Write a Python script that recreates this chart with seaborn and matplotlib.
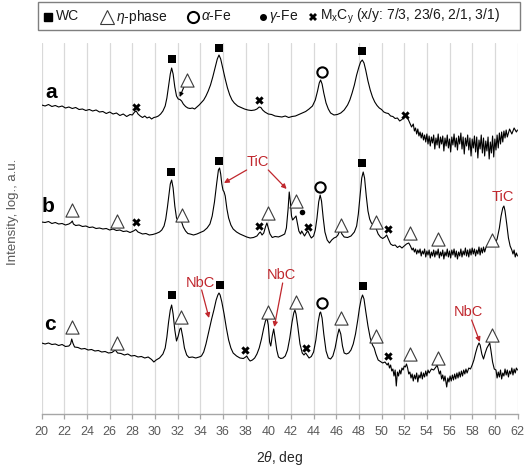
import matplotlib
matplotlib.use("Agg")
import matplotlib.pyplot as plt
from matplotlib.patches import Rectangle
from matplotlib.lines import Line2D
import pandas as pd
import seaborn as sns

# ---- XRD patterns: (2theta in deg, log intensity in a.u. incl. stacking offset) ----
trace_a = [
    (20.0, 309), (20.3, 308), (20.6, 309.5), (20.9, 307.5), (21.2, 308.5), (21.5, 307),
    (21.8, 308), (22.1, 306), (22.4, 307), (22.7, 305.5), (23.0, 306.5), (23.3, 304.5),
    (23.6, 305), (23.9, 303.5), (24.2, 304.5), (24.5, 303), (24.8, 304), (25.1, 302),
    (25.4, 302.5), (25.7, 300.5), (26.0, 302), (26.3, 300), (26.6, 301), (26.9, 298.5),
    (27.2, 300), (27.5, 297.5), (27.8, 299.5), (28.0, 299), (28.2, 302), (28.35, 303),
    (28.5, 300), (28.7, 298), (28.9, 296.5), (29.1, 298), (29.3, 296), (29.5, 297),
    (29.7, 295), (29.9, 296.5), (30.1, 297), (30.3, 298), (30.5, 300), (30.7, 303),
    (30.9, 308), (31.05, 316), (31.2, 328), (31.35, 340), (31.47, 346), (31.6, 340),
    (31.75, 327), (31.9, 318), (32.05, 315), (32.2, 314.5), (32.35, 313), (32.5, 310),
    (32.7, 307.5), (32.9, 306), (33.1, 305.5), (33.3, 306), (33.5, 305), (33.7, 307),
    (33.9, 309), (34.1, 311.5), (34.3, 314), (34.5, 318), (34.7, 323), (34.9, 329),
    (35.1, 337), (35.3, 346), (35.5, 355), (35.65, 359), (35.8, 355), (36.0, 345),
    (36.2, 335), (36.4, 326), (36.6, 319), (36.8, 314), (37.0, 311), (37.3, 308),
    (37.6, 306.5), (37.9, 305), (38.2, 304), (38.5, 303.5), (38.8, 304), (39.0, 305),
    (39.2, 307), (39.35, 306.5), (39.5, 304), (39.7, 302), (40.0, 300), (40.3, 299.5),
    (40.6, 298), (40.9, 297.5), (41.2, 297), (41.5, 298), (41.8, 296.5), (42.1, 297.5),
    (42.4, 298), (42.7, 299.5), (43.0, 301), (43.3, 302.5), (43.6, 305), (43.9, 308),
    (44.15, 314), (44.35, 323), (44.5, 331), (44.62, 334), (44.75, 330), (44.9, 321),
    (45.1, 311), (45.3, 305), (45.5, 301), (45.8, 299), (46.1, 299.5), (46.4, 301),
    (46.7, 304), (47.0, 309), (47.2, 314), (47.4, 321), (47.6, 329), (47.8, 339),
    (48.0, 347), (48.15, 352), (48.3, 354), (48.45, 351), (48.6, 344), (48.8, 333),
    (49.0, 324), (49.2, 317), (49.4, 312), (49.6, 308.5), (49.8, 306), (50.0, 304.5),
    (50.2, 302), (50.4, 301), (50.6, 300.5), (50.8, 298), (51.0, 297.5), (51.2, 295.5),
    (51.4, 296), (51.6, 293), (51.8, 294.5), (52.0, 297), (52.15, 299), (52.3, 296),
    (52.5, 291), (52.65, 287), (52.8, 290), (52.9, 283), (53.0, 286), (53.1, 280),
    (53.2, 285), (53.3, 278), (53.4, 282), (53.5, 276), (53.6, 281), (53.7, 274),
    (53.8, 279), (53.9, 272), (54.0, 280), (54.1, 270), (54.2, 278), (54.3, 268),
    (54.4, 277), (54.5, 271), (54.6, 279), (54.7, 265), (54.8, 276), (54.9, 269),
    (55.0, 280), (55.1, 266), (55.2, 277), (55.3, 270), (55.4, 278), (55.5, 263),
    (55.6, 276), (55.7, 268), (55.8, 279), (55.9, 266), (56.0, 275), (56.1, 262),
    (56.2, 277), (56.3, 269), (56.4, 280), (56.5, 267), (56.6, 276), (56.7, 264),
    (56.8, 278), (56.9, 270), (57.0, 281), (57.1, 265), (57.2, 277), (57.3, 260),
    (57.4, 276), (57.5, 268), (57.6, 279), (57.7, 264), (57.8, 276), (57.9, 258),
    (58.0, 275), (58.1, 266), (58.2, 278), (58.3, 262), (58.4, 277), (58.5, 256),
    (58.6, 274), (58.7, 265), (58.8, 279), (58.9, 261), (59.0, 276), (59.1, 258),
    (59.2, 273), (59.3, 263), (59.4, 277), (59.5, 255), (59.6, 272), (59.7, 261),
    (59.8, 278), (59.9, 257), (60.0, 275), (60.1, 264), (60.2, 279), (60.3, 266),
    (60.4, 281), (60.5, 270), (60.6, 282), (60.7, 272), (60.8, 283), (60.9, 276),
    (61.0, 284), (61.1, 277), (61.3, 285), (61.5, 280), (61.7, 286), (61.9, 282),
    (62.0, 284),
]

trace_b = [
    (20.0, 192), (20.3, 191.5), (20.6, 192.5), (20.9, 190.5), (21.2, 191.5), (21.5, 190),
    (21.8, 190.5), (22.1, 189), (22.4, 190), (22.6, 191.5), (22.7, 193), (22.8, 190),
    (23.0, 188.5), (23.3, 189), (23.6, 187.5), (23.9, 188), (24.2, 186.5), (24.5, 187),
    (24.8, 185.5), (25.1, 186), (25.4, 185), (25.7, 185.5), (26.0, 184), (26.3, 185),
    (26.6, 183.5), (26.9, 184), (27.2, 182.5), (27.5, 183), (27.8, 181.5), (28.1, 183),
    (28.3, 184.5), (28.5, 182), (28.7, 181), (28.9, 180), (29.2, 180.5), (29.5, 179),
    (29.8, 179.5), (30.1, 180.5), (30.4, 182), (30.6, 184), (30.8, 188), (30.95, 195),
    (31.1, 207), (31.25, 221), (31.35, 230), (31.47, 234), (31.6, 226), (31.75, 208),
    (31.9, 196), (32.05, 193), (32.15, 194), (32.25, 195), (32.35, 192), (32.5, 187),
    (32.7, 183), (32.9, 180.5), (33.1, 180), (33.4, 179), (33.7, 180), (34.0, 181.5),
    (34.3, 183), (34.6, 186), (34.85, 190), (35.05, 198), (35.25, 212), (35.45, 231),
    (35.6, 244), (35.7, 246), (35.8, 240), (35.9, 230), (36.0, 224), (36.1, 222),
    (36.2, 218), (36.35, 205), (36.5, 196), (36.7, 189), (36.9, 185), (37.2, 182),
    (37.5, 180), (37.8, 178.5), (38.1, 177), (38.4, 176), (38.7, 176.5), (39.0, 178),
    (39.2, 181), (39.3, 182), (39.45, 179), (39.6, 181), (39.75, 187), (39.88, 191),
    (40.0, 186), (40.15, 180), (40.35, 176.5), (40.6, 177.5), (40.9, 177), (41.2, 178.5),
    (41.45, 180), (41.6, 186), (41.75, 205), (41.85, 222), (41.95, 212), (42.05, 198),
    (42.15, 194), (42.3, 196), (42.45, 198), (42.55, 192), (42.7, 183), (42.85, 180),
    (42.95, 183), (43.05, 181), (43.2, 178), (43.35, 181), (43.5, 183), (43.65, 179),
    (43.8, 176), (44.0, 178), (44.15, 184), (44.3, 196), (44.45, 212), (44.58, 219),
    (44.7, 213), (44.85, 196), (45.0, 182), (45.2, 174), (45.4, 171), (45.6, 174),
    (45.8, 176), (46.0, 177), (46.15, 179), (46.3, 183), (46.4, 183), (46.5, 180),
    (46.7, 177), (47.0, 176.5), (47.3, 178), (47.6, 182), (47.8, 188), (47.95, 200),
    (48.1, 218), (48.25, 236), (48.38, 242), (48.5, 236), (48.65, 218), (48.8, 203),
    (48.95, 195), (49.1, 191), (49.3, 189), (49.5, 186), (49.7, 180), (49.9, 177),
    (50.1, 175.5), (50.3, 177), (50.45, 179), (50.6, 175), (50.8, 170), (51.0, 168.5),
    (51.2, 169), (51.4, 166.5), (51.6, 168), (51.8, 166), (52.0, 168), (52.2, 170),
    (52.4, 171), (52.55, 168), (52.7, 164), (52.8, 166), (52.9, 162), (53.0, 165),
    (53.1, 160), (53.2, 164), (53.3, 161), (53.4, 165), (53.5, 158), (53.6, 163),
    (53.7, 160), (53.8, 165), (53.9, 157), (54.0, 163), (54.1, 159), (54.2, 164),
    (54.3, 156), (54.4, 162), (54.5, 158), (54.6, 164), (54.7, 157), (54.8, 163),
    (54.9, 159), (55.0, 165), (55.1, 156), (55.2, 162), (55.3, 158), (55.4, 164),
    (55.5, 155), (55.6, 162), (55.7, 158), (55.8, 165), (55.9, 157), (56.0, 163),
    (56.1, 156), (56.2, 164), (56.3, 159), (56.4, 165), (56.5, 157), (56.6, 163),
    (56.7, 155), (56.8, 162), (56.9, 158), (57.0, 165), (57.1, 157), (57.2, 163),
    (57.3, 159), (57.4, 166), (57.5, 158), (57.6, 164), (57.7, 157), (57.8, 165),
    (57.9, 159), (58.0, 166), (58.1, 160), (58.2, 165), (58.3, 158), (58.4, 164),
    (58.5, 160), (58.6, 167), (58.7, 159), (58.8, 166), (58.9, 161), (59.0, 167),
    (59.1, 162), (59.2, 166), (59.35, 169), (59.5, 170), (59.7, 172), (59.85, 168),
    (60.0, 170), (60.2, 175), (60.4, 186), (60.55, 198), (60.7, 206), (60.8, 208),
    (60.9, 203), (61.05, 190), (61.2, 176), (61.35, 168), (61.5, 164), (61.6, 160),
    (61.7, 164), (61.8, 157), (61.9, 161), (62.0, 158),
]

trace_c = [
    (20.0, 71), (20.3, 70), (20.6, 71), (20.9, 69.5), (21.2, 70), (21.5, 68.5),
    (21.8, 69.5), (22.1, 67.5), (22.4, 68), (22.55, 70), (22.65, 75), (22.75, 71),
    (22.9, 67), (23.2, 66.5), (23.5, 65), (23.8, 65.5), (24.1, 64), (24.4, 64.5),
    (24.7, 63), (25.0, 63.5), (25.3, 62), (25.6, 62.5), (25.9, 61), (26.2, 61.5),
    (26.5, 64), (26.7, 61), (27.0, 60.5), (27.3, 59), (27.6, 60), (27.9, 58),
    (28.2, 58.5), (28.5, 57), (28.8, 57.5), (29.1, 56), (29.4, 57), (29.7, 54.5),
    (29.9, 52), (30.1, 54), (30.4, 56), (30.7, 60), (30.9, 66), (31.05, 77),
    (31.2, 92), (31.35, 104), (31.47, 109), (31.6, 100), (31.75, 84), (31.9, 73),
    (32.05, 78), (32.2, 85), (32.3, 86), (32.45, 77), (32.6, 66), (32.8, 59),
    (33.0, 56.5), (33.3, 57), (33.6, 56), (33.9, 57), (34.1, 58), (34.3, 62),
    (34.5, 70), (34.7, 80), (34.85, 88), (35.0, 95), (35.2, 104), (35.4, 114),
    (35.55, 119), (35.65, 121), (35.75, 119), (35.9, 112), (36.1, 100), (36.3, 86),
    (36.5, 74), (36.7, 66), (36.9, 61), (37.2, 58), (37.5, 56), (37.8, 55.5),
    (38.0, 57), (38.1, 58), (38.25, 55), (38.4, 53), (38.6, 54), (38.8, 56),
    (39.0, 60), (39.2, 66), (39.4, 75), (39.6, 86), (39.75, 93), (39.88, 96),
    (40.0, 89), (40.12, 72), (40.22, 68), (40.35, 78), (40.48, 85), (40.6, 76),
    (40.75, 64), (40.9, 57), (41.1, 55.5), (41.3, 56), (41.5, 58), (41.7, 64),
    (41.9, 76), (42.1, 92), (42.25, 101), (42.35, 104), (42.45, 100), (42.6, 88),
    (42.8, 70), (43.0, 61), (43.15, 59), (43.3, 61), (43.45, 58.5), (43.6, 56),
    (43.8, 57.5), (44.0, 62), (44.2, 74), (44.4, 92), (44.55, 101), (44.62, 102),
    (44.75, 96), (44.9, 80), (45.1, 63), (45.3, 56), (45.5, 55), (45.7, 58),
    (45.9, 66), (46.1, 78), (46.25, 85), (46.4, 80), (46.55, 68), (46.7, 61),
    (46.9, 60), (47.1, 61), (47.3, 64), (47.5, 70), (47.7, 80), (47.9, 94),
    (48.05, 106), (48.2, 115), (48.32, 119), (48.45, 115), (48.6, 103), (48.8, 88),
    (49.0, 76), (49.2, 69), (49.35, 66), (49.5, 60), (49.7, 54), (49.9, 52.5),
    (50.1, 51), (50.3, 52), (50.5, 49), (50.6, 51), (50.7, 46), (50.8, 49),
    (50.9, 43), (51.0, 45), (51.1, 38), (51.2, 44), (51.3, 28), (51.4, 42),
    (51.5, 38), (51.6, 44), (51.7, 40), (51.8, 46), (51.9, 44), (52.0, 48),
    (52.1, 47), (52.2, 50), (52.3, 46), (52.4, 40), (52.5, 42), (52.6, 36),
    (52.7, 40), (52.8, 33), (52.9, 39), (53.0, 35), (53.1, 41), (53.2, 32),
    (53.3, 39), (53.4, 36), (53.5, 42), (53.6, 35), (53.7, 41), (53.8, 37),
    (53.9, 43), (54.0, 38), (54.1, 44), (54.2, 41), (54.4, 45), (54.6, 44),
    (54.8, 47), (54.9, 49), (55.0, 45), (55.1, 40), (55.2, 43), (55.3, 35),
    (55.4, 39), (55.5, 33), (55.6, 38), (55.75, 27), (55.85, 36), (55.95, 32),
    (56.05, 38), (56.15, 33), (56.25, 39), (56.35, 34), (56.45, 40), (56.55, 35),
    (56.65, 41), (56.75, 36), (56.85, 42), (56.95, 37), (57.05, 43), (57.15, 38),
    (57.25, 44), (57.35, 40), (57.45, 45), (57.55, 41), (57.7, 46), (57.85, 45),
    (58.0, 49), (58.15, 54), (58.3, 61), (58.45, 67), (58.6, 71), (58.7, 69),
    (58.85, 60), (59.0, 55), (59.15, 61), (59.3, 66), (59.45, 69), (59.55, 71),
    (59.65, 64), (59.8, 52), (59.95, 45), (60.1, 44), (60.2, 36), (60.3, 42),
    (60.4, 37), (60.5, 44), (60.6, 35), (60.7, 41), (60.8, 38), (60.9, 45),
    (61.0, 39), (61.1, 44), (61.2, 37), (61.3, 43), (61.4, 40), (61.5, 46),
    (61.6, 39), (61.7, 45), (61.8, 41), (61.9, 46), (62.0, 44),
]

# ---- phase identification markers (2theta, height) ----
wc_peaks = [(31.47, 355), (35.65, 366), (48.3, 363),
            (31.39, 242), (35.65, 253), (48.3, 251),
            (31.47, 119), (35.7, 129), (48.33, 128)]
eta_peaks = [(32.8, 334),
             (22.65, 204), (26.62, 193), (32.36, 199), (40.0, 201), (42.45, 213),
             (46.42, 189), (49.48, 192), (52.5, 181), (54.95, 175), (59.77, 174),
             (22.65, 87), (26.62, 71), (32.3, 97), (39.95, 102), (42.45, 112),
             (46.42, 96), (49.48, 78), (52.5, 60), (55.0, 56), (59.77, 79)]
alpha_fe_peaks = [(44.71, 342), (44.56, 227), (44.71, 111)]
gamma_fe_peaks = [(42.95, 202)]
mxcy_peaks = [(28.3, 307), (39.2, 314), (52.09, 299),
              (28.35, 192), (39.2, 188), (43.53, 187), (50.59, 185),
              (37.94, 64), (43.33, 66), (50.59, 58)]

# ---- carbide call-outs: label, text position, arrows (from -> to) ----
tic_notes = [("TiC", (39.12, 252), [((38.09, 244), (36.09, 231)), ((40.0, 244), (41.62, 225))]),
             ("TiC", (60.74, 217), [])]
nbc_notes = [("NbC", (33.97, 131), [((34.12, 124), (34.77, 96))]),
             ("NbC", (41.18, 139), [((41.27, 131), (40.53, 87))]),
             ("NbC", (57.65, 102), [((57.95, 94), (58.68, 72))])]

pattern_names = ["a", "b", "c"]
x_ticks = list(range(20, 63, 2))
legend_labels = ["WC", r"$\eta$-phase", r"$\alpha$-Fe", r"$\gamma$-Fe",
                 r"M$_\mathregular{x}$C$_\mathregular{y}$ (x/y: 7/3, 23/6, 2/1, 3/1)"]

sns.set_theme(style="white")
plt.rcParams["font.family"] = ["Liberation Sans", "DejaVu Sans"]
plt.rcParams["mathtext.fontset"] = "custom"
plt.rcParams["mathtext.rm"] = "Liberation Sans"
plt.rcParams["mathtext.it"] = "Liberation Sans:italic"
plt.rcParams["mathtext.bf"] = "Liberation Sans:bold"

frames = []
for name, trace in zip(pattern_names, [trace_a, trace_b, trace_c]):
    df = pd.DataFrame(trace, columns=["two_theta", "intensity"])
    df["pattern"] = name
    frames.append(df)
patterns = pd.concat(frames, ignore_index=True)

W, H = 525, 470
fig = plt.figure(figsize=(W / 100, H / 100), dpi=100)
ax = fig.add_axes([41.7 / W, 56 / H, 475.8 / W, 371 / H])

ax.set_xlim(20, 62)
ax.set_ylim(0, 371)
ax.set_xticks(x_ticks)
ax.set_yticks([])
ax.grid(axis="x", color="#d9d9d9", linewidth=0.9)
ax.set_axisbelow(True)
for side in ["left", "top", "right"]:
    ax.spines[side].set_visible(False)
ax.spines["bottom"].set_color("#a6a6a6")
ax.spines["bottom"].set_linewidth(1.0)
ax.tick_params(axis="x", bottom=True, direction="out", length=3.5, width=0.9,
               color="#a6a6a6", labelcolor="#595959", labelsize=9, pad=5)

sns.lineplot(data=patterns, x="two_theta", y="intensity", units="pattern",
             estimator=None, sort=False, color="black", linewidth=0.8, ax=ax)


def xy(points):
    return [p[0] for p in points], [p[1] for p in points]


mx, my = xy(wc_peaks)
sns.scatterplot(x=mx, y=my, marker="s", s=34, color="black", edgecolor="black",
                linewidth=0, ax=ax, zorder=5)
mx, my = xy(eta_peaks)
ax.scatter(mx, my, marker="^", s=90, facecolors="white", edgecolors="#3a3a3a",
           linewidths=0.8, zorder=5)
mx, my = xy(alpha_fe_peaks)
ax.scatter(mx, my, marker="o", s=55, facecolors="white", edgecolors="black",
           linewidths=1.5, zorder=5)
mx, my = xy(gamma_fe_peaks)
sns.scatterplot(x=mx, y=my, marker="o", s=16, color="black", linewidth=0, ax=ax, zorder=5)
mx, my = xy(mxcy_peaks)
sns.scatterplot(x=mx, y=my, marker="X", s=36, color="black", linewidth=0, ax=ax, zorder=5)

# arrow from the eta-phase marker to the shoulder of pattern a
ax.annotate("", xy=(32.18, 317), xytext=(32.55, 327),
            arrowprops=dict(arrowstyle="-|>", color="black", lw=0.8,
                            mutation_scale=6, shrinkA=0, shrinkB=0))

red = "#c0272d"
for notes in (tic_notes, nbc_notes):
    for label, (tx, ty), arrows in notes:
        ax.text(tx, ty, label, color=red, fontsize=10.5, ha="center", va="center")
        for (x0, y0), (x1, y1) in arrows:
            ax.annotate("", xy=(x1, y1), xytext=(x0, y0),
                        arrowprops=dict(arrowstyle="-|>", color=red, lw=0.9,
                                        mutation_scale=7, shrinkA=0, shrinkB=0))

# pattern letters
for name, (tx, ty) in zip(pattern_names, [(20.8, 322), (20.6, 208), (20.7, 90)]):
    ax.text(tx, ty, name, fontsize=15, fontweight="bold", ha="center", va="center",
            color="black")

ax.set_xlabel(r"2$\theta$, deg", fontsize=10, color="#262626", labelpad=8)
ax.set_ylabel("")
fig.text(13 / W, 1 - 212 / H, "Intensity, log., a.u.", rotation=90,
         ha="center", va="center", fontsize=9.5, color="#595959")


# legend strip across the top, positioned in pixel units of the figure
def fpos(px, py):
    return px / W, 1 - py / H


x0, y0 = fpos(38, 30)
fig.add_artist(Rectangle((x0, y0), 482 / W, 28 / H, transform=fig.transFigure,
                         facecolor="white", edgecolor="#7f7f7f", lw=1.0, zorder=10))
row_y = 16.5
legend_marks = [
    (48.3, dict(marker="s", color="black", markersize=6)),
    (107.3, dict(marker="^", markerfacecolor="white", markeredgecolor="#3a3a3a",
                 markersize=10, markeredgewidth=0.8)),
    (192.7, dict(marker="o", markerfacecolor="white", markeredgecolor="black",
                 markersize=8, markeredgewidth=1.5)),
    (263.3, dict(marker="o", color="black", markersize=4)),
    (313.3, dict(marker="X", color="black", markersize=6, markeredgewidth=0)),
]
for mxp, style in legend_marks:
    fx, fy = fpos(mxp, row_y)
    fig.add_artist(Line2D([fx], [fy], ls="", transform=fig.transFigure, zorder=11, **style))
for tx, label in zip([56, 116, 201, 269, 320], legend_labels):
    fx, fy = fpos(tx, row_y)
    fig.text(fx, fy, label, ha="left", va="center", fontsize=10, color="#1a1a1a",
             zorder=11)

fig.savefig("out.png", dpi=100)
